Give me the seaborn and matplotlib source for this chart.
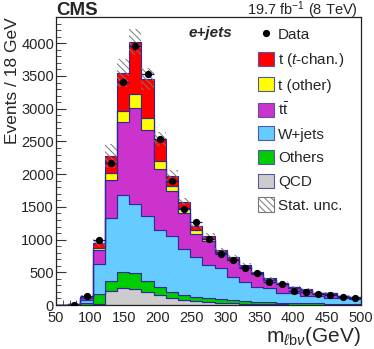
import numpy as np
import pandas as pd
import seaborn as sns
import matplotlib.pyplot as plt
from matplotlib.patches import Patch
from matplotlib.lines import Line2D
from matplotlib.ticker import MultipleLocator

# 18 GeV bins from 50 to 500
edges = list(range(50, 501, 18))
centers = np.array(edges[:-1]) + 9

data = [0, 5, 145, 995, 2175, 3415, 3955, 3537, 2540, 1888, 1470, 1271, 1015,
        778, 690, 566, 485, 352, 321, 219, 204, 164, 153, 122, 107]

t_chan = [0, 2, 9, 86, 256, 577, 791, 602, 332, 157, 102, 61, 40,
          30, 25, 18, 14, 10, 8, 8, 7, 7, 7, 7, 7]
t_other = [0, 1, 4, 25, 112, 173, 219, 178, 127, 77, 67, 62, 30,
           20, 15, 12, 10, 8, 6, 6, 5, 5, 5, 5, 5]
ttbar = [1, 5, 35, 215, 585, 1112, 1459, 1316, 933, 688, 555, 347, 374,
         230, 255, 225, 196, 135, 149, 87, 85, 34, 70, 29, 28]
wjets = [2, 8, 55, 462, 957, 1183, 1060, 992, 878, 851, 697, 614, 512,
         476, 364, 297, 230, 213, 142, 147, 115, 118, 80, 83, 70]
others = [1, 3, 20, 150, 150, 245, 250, 170, 120, 95, 80, 65, 55,
          50, 45, 40, 35, 30, 27, 24, 21, 19, 17, 15, 13]
qcd = [0, 1, 5, 15, 220, 255, 240, 200, 150, 110, 80, 60, 45,
       35, 25, 20, 15, 12, 10, 8, 7, 6, 5, 4, 4]
stat_unc = [1, 3, 20, 60, 180, 210, 200, 170, 110, 80, 60, 45, 40,
            35, 30, 27, 24, 21, 19, 17, 15, 13, 12, 11, 10]

processes = ["t (t-chan.)", "t (other)", "ttbar", "W+jets", "Others", "QCD"]
labels = ["t ($\\it{t}$-chan.)", "t (other)", "t$\\bar{\\mathrm{t}}$", "W+jets", "Others", "QCD"]
colors = ["#ff0000", "#ffff00", "#cc33cc", "#66ccff", "#00cc00", "#cccccc"]
values = [t_chan, t_other, ttbar, wjets, others, qcd]

rows = []
for proc, vals in zip(processes, values):
    for c, v in zip(centers, vals):
        rows.append({"mass": float(c), "events": float(v), "process": proc})
df = pd.DataFrame(rows)

sns.set_style("ticks")
plt.rcParams["font.family"] = ["Liberation Sans", "DejaVu Sans"]
plt.rcParams["mathtext.fontset"] = "custom"
plt.rcParams["mathtext.rm"] = "Liberation Sans"
plt.rcParams["mathtext.it"] = "Liberation Sans:italic"
plt.rcParams["mathtext.bf"] = "Liberation Sans:bold"
plt.rcParams["hatch.linewidth"] = 0.7

fig = plt.figure(figsize=(3.74, 3.49), dpi=100)
ax = fig.add_axes([0.150, 0.126, 0.815, 0.825])

sns.histplot(data=df, x="mass", weights="events", hue="process",
             hue_order=processes, palette=dict(zip(processes, colors)),
             bins=edges, multiple="stack", element="step", fill=True,
             alpha=1, edgecolor="#2a2a9a", linewidth=0.8, legend=False, ax=ax)

total = np.sum(values, axis=0)
unc = np.array(stat_unc)
ax.bar(centers, 2 * unc, bottom=total - unc, width=18, facecolor="none",
       edgecolor="#777777", hatch="\\\\\\\\\\", linewidth=0, zorder=5)

d = np.array(data, dtype=float)
m = d > 0
ax.errorbar(centers[m], d[m], yerr=np.sqrt(d[m]), xerr=9, fmt="o", ms=4.2,
            mfc="black", mec="black", ecolor="#1a1a80", elinewidth=0.9,
            capsize=0, zorder=6)

ax.set_xlim(50, 500)
ax.set_ylim(0, 4400)
ax.xaxis.set_major_locator(MultipleLocator(50))
ax.xaxis.set_minor_locator(MultipleLocator(10))
ax.yaxis.set_major_locator(MultipleLocator(500))
ax.yaxis.set_minor_locator(MultipleLocator(100))
ax.tick_params(which="both", direction="in", top=False, right=False,
               labelsize=10.5, color="#333333")
ax.tick_params(axis="x", pad=4)
ax.tick_params(axis="y", pad=1.5)
ax.tick_params(which="major", length=7, width=0.8)
ax.tick_params(which="minor", length=3.5, width=0.6)
for s in ax.spines.values():
    s.set_linewidth(0.9)
    s.set_color("#222222")

ax.set_xlabel("m$_{\\ell\\mathrm{b}\\nu}$(GeV)", fontsize=15, loc="right", labelpad=0)
ax.set_ylabel("Events / 18 GeV", fontsize=12.5, loc="top", labelpad=1)

fig.text(0.150, 0.956, "CMS", fontsize=13.5, fontweight="bold", ha="left", va="baseline")
fig.text(0.958, 0.956, "19.7 fb$^{-1}$ (8 TeV)", fontsize=10.5, ha="right", va="baseline")
ax.text(0.433, 0.944, "e+jets", transform=ax.transAxes, fontsize=11,
        fontweight="bold", fontstyle="italic", ha="left", va="center")

handles = [Line2D([], [], marker="o", ls="none", color="black", ms=4.2)]
handles += [Patch(facecolor=c, edgecolor="#5555aa", linewidth=0.8) for c in colors]
handles.append(Patch(facecolor="white", edgecolor="#777777", hatch="\\\\\\\\\\", linewidth=0.8))
ax.legend(handles, ["Data"] + labels + ["Stat. unc."], loc="upper left",
          bbox_to_anchor=(0.663, 0.965), frameon=False, fontsize=11,
          handlelength=1.05, handleheight=1.05, handletextpad=0.25,
          labelspacing=0.55, borderpad=0, borderaxespad=0)

fig.savefig("out.png", dpi=100)
